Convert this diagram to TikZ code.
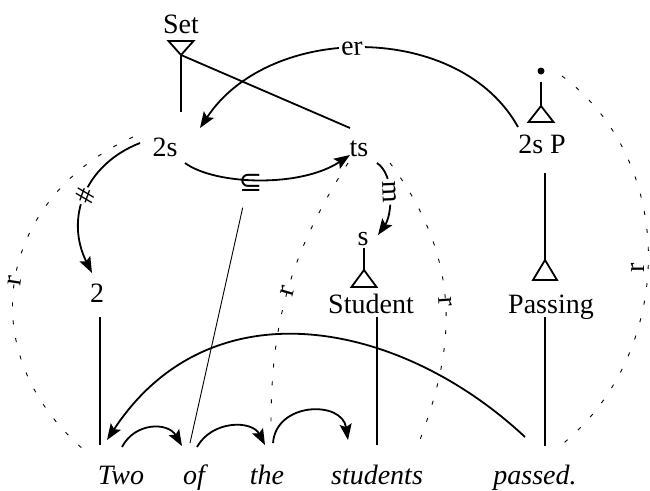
\documentclass[tikz,border=0pt]{standalone}
\usepackage{fontspec}
\setmainfont{Liberation Serif}
\newfontfamily\symfont{DejaVu Sans}
\usetikzlibrary{arrows.meta,calc}
\tikzset{
  lbl/.style={anchor=base, inner sep=0pt},
  word/.style={anchor=base, inner sep=0pt, font=\fontsize{28}{34}\selectfont\itshape},
  link/.style={line width=1.8pt},
  arcarrow/.style={line width=1.8pt, -{Stealth[length=16pt,width=12pt,inset=3pt]}},
  rel/.style={line width=0.9pt, dash pattern=on 4pt off 14pt},
  tag/.style={sloped, fill=white, inner sep=2pt},
}
\begin{document}
\begin{tikzpicture}[x=1pt, y=-1pt, font=\fontsize{28}{34}\selectfont]
  \useasboundingbox (0,0) rectangle (650,490);

  % labels
  \node[lbl] (set) at (181,33) {Set};
  \node[lbl] (twos) at (165,156) {2s};
  \node[lbl] (ts) at (359,156) {ts};
  \node[lbl] (twosP) at (542,153) {2s P};
  \node[circle, fill, inner sep=0pt, minimum size=7pt] (dot) at (541,71) {};
  \node[lbl] (two) at (97,302) {2};
  \node[lbl] (s) at (363,245) {s};
  \node[lbl] (student) at (371,313) {Student};
  \node[lbl] (passing) at (551,313) {Passing};

  % words
  \node[word] (wTwo) at (121,484) {Two};
  \node[word] (wOf) at (194,484) {of};
  \node[word] (wThe) at (267,484) {the};
  \node[word] (wStudents) at (377,484) {students};
  \node[word] (wPassed) at (535,484) {passed.};

  % triangles and stems
  \coordinate (setapex) at ([shift={(0,22)}]set.base);
  \draw[link] (setapex) -- ++(-12.5,-14) -- ++(25,0) -- cycle;
  \draw[link] (setapex) -- ++(0,57);
  \draw[link] (setapex) -- ([shift={(-9,-28)}]ts.base);

  \coordinate (papex) at ([shift={(0,35)}]dot.center);
  \draw[link] ([shift={(0,11)}]dot.center) -- (papex);
  \draw[link] (papex) -- ++(-12.5,16) -- ++(25,0) -- cycle;

  \coordinate (sapex) at ([shift={(1,25)}]s.base);
  \draw[link] ([shift={(1,3)}]s.base) -- (sapex);
  \draw[link] (sapex) -- ++(-12.5,17) -- ++(25,0) -- cycle;

  \coordinate (gapex) at ([shift={(-6,-53)}]passing.base);
  \draw[link] ([shift={(3,20)}]twosP.base) -- (gapex);
  \draw[link] (gapex) -- ++(-12,20) -- ++(24,0) -- cycle;

  \draw[link] ([shift={(3,15)}]two.base) -- ++(0,128);
  \draw[link] ([shift={(6,4)}]student.base) -- ++(0,128);
  \draw[link] ([shift={(-6,4)}]passing.base) -- ++(0,129);

  % arrows between labels
  \draw[arcarrow] ([shift={(-24,-26)}]twosP.base) .. controls (460,22) and (270,22) .. node[tag, pos=0.53] {er} ([shift={(35,-28)}]twos.base);
  \draw[arcarrow] ([shift={(20,7)}]twos.base) .. controls (215,185) and (300,188) .. node[pos=0.45, yshift=-3pt, inner sep=0pt] (sub) {\symfont ⊆} ([shift={(-9,-1)}]ts.base);
  \draw[arcarrow] ([shift={(-25,-13)}]twos.base) .. controls (84,165) and (65,219) .. node[tag] {\#} ([shift={(-5,-29)}]two.base);
  \draw[arcarrow] ([shift={(18,7)}]ts.base) .. controls (395,175) and (392,215) .. node[tag, pos=0.45] {m} ([shift={(15,-10)}]s.base);
  \draw[line width=0.9pt] ([shift={(-8,25)}]sub.center) -- ([shift={(-4,-41)}]wOf.base);

  % arrows between words
  \draw[arcarrow] ([shift={(-10,-47)}]wPassed.base) .. controls (401,321) and (211,282) .. ([shift={(-14,-44)}]wTwo.base);
  \draw[arcarrow] ([shift={(1,-37)}]wTwo.base) .. controls (135,422) and (168,422) .. ([shift={(-12,-38)}]wOf.base);
  \draw[arcarrow] ([shift={(3,-37)}]wOf.base) .. controls (212,420) and (252,420) .. ([shift={(-2,-39)}]wThe.base);
  \draw[arcarrow] ([shift={(6,-41)}]wThe.base) .. controls (276,402) and (342,400) .. ([shift={(-29,-44)}]wStudents.base);

  % dotted relations
  \draw[rel] ([shift={(-32,-19)}]twos.base) .. controls (-3,198) and (-33,355) .. node[sloped, pos=0.5] {r} ([shift={(-31,-29)}]wTwo.base);
  \draw[rel] ([shift={(-11,7)}]ts.base) .. controls (289,255) and (271,325) .. node[sloped, pos=0.5] {r} ([shift={(4,-59)}]wThe.base);
  \draw[rel] ([shift={(31,7)}]ts.base) .. controls (468,267) and (452,357) .. node[sloped, pos=0.47] {r} ([shift={(41,-39)}]wStudents.base);
  \draw[rel] ([shift={(21,5)}]dot.center) .. controls (680,164) and (675,355) .. node[pos=0.52, rotate=90, anchor=south, inner sep=3pt] {r} ([shift={(25,-38)}]wPassed.base);
\end{tikzpicture}
\end{document}
